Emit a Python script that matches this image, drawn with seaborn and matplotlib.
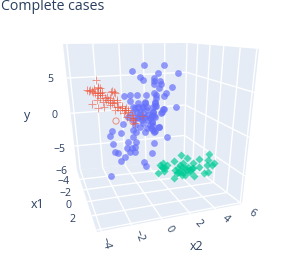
import matplotlib
matplotlib.use("Agg")
import numpy as np, pandas as pd
import matplotlib.pyplot as plt
from matplotlib.patches import Polygon
import seaborn as sns

# Projected (screen-space) positions of the 3D points
red_z = [(289,240),(270,271),(283,268),(293,260),(300,265),(305,275),(285,280),(295,285),(335,272),(345,278),(275,313),(295,323),(312,320),(320,290),(325,300),(340,300),(335,310),(350,305),(355,320),(365,318),(378,325),(385,335),(372,340),(395,345),(425,347),(400,355),(405,370),(330,295),(310,305),(345,330),(300,295),(290,300),(262,270),(280,275),(300,280),(315,295),(330,315),(360,330),(375,330)]
red_z5 = [(50,92),(42,92),(70,85),(65,100),(75,100),(82,105),(92,120),(105,125),(118,130),(125,140),(140,145),(150,150),(160,150),(155,170),(175,180),(125,120),(108,95),(118,95)]
red_open_z = [(348,363),(399,365)]
blue_z5 = [(208,15),(172,33),(195,50),(205,60),(147,108),(165,105),(185,105),(212,105),(175,140),(190,130),(210,130),(200,140),(215,140)]
blue_z2 = [(38,195),(22,220),(81,219),(10,235),(10,243),(8,252),(28,243),(30,253),(25,265),(63,262),(45,280),(38,288),(8,278),(15,285),(15,295),(12,310),(15,317),(5,320),(5,335),(74,322),(40,328),(32,337),(10,348),(3,348),(2,365),(25,380),(5,378),(12,392),(0,385)]
blue_z6 = [(135,5),(165,5),(165,18),(130,20),(115,20),(105,25),(90,2),(190,28),(183,38),(160,35),(155,45),(150,55),(165,50),(130,40),(110,50),(37,93),(30,108),(62,98),(201,110),(40,132),(85,125),(100,112),(108,125),(163,128),(80,145),(105,140),(95,145),(90,155),(45,157),(55,160),(105,157),(75,172),(63,182),(157,160),(132,185),(137,197),(33,229),(98,90),(108,95),(135,95),(140,85),(160,90),(178,80),(162,97),(150,75),(155,65),(125,60),(115,55),(100,60),(85,50),(70,72),(120,80),(130,70),(145,60),(105,75),(120,35),(140,30),(125,50),(135,50),(145,45),(110,35),(95,40)]
green_z = [(93,45),(112,55),(72,62),(147,58),(178,43),(175,60),(192,68),(130,68),(147,80),(185,75),(172,75),(175,95),(163,98),(132,108),(72,113),(25,100),(30,75),(40,70),(45,85),(50,75),(42,92),(85,85),(95,80),(105,85),(115,80),(125,85),(90,95),(100,95),(110,90),(80,100),(105,105),(120,90),(90,75),(100,70),(85,95),(95,105),(130,85),(35,80),(40,85),(75,90),(120,95)]

x2_ticks = ["\u22124", "\u22122", "0", "2", "4", "6"]
x1_ticks = ["\u22126", "\u22124", "\u22122", "0", "2"]
y_ticks = ["\u22125", "0", "5"]
TXT = "#2a3f5f"; PANE = "#e5ecf6"
BLUE = "#636efa"; RED = "#ef553b"; GREEN = "#00cc96"

def crop(pts, ox, oy):
    return [(ox + a / 3, oy + b / 3) for a, b in pts]

blue = crop(blue_z5, 75, 60) + crop(blue_z2, 151, 0) + crop(blue_z6, 100, 100)
green = crop(green_z, 150, 140)
red = crop(red_z, 0, 0) + crop(red_z5, 75, 60)
red_open = crop(red_open_z, 0, 0)

def frame(pts):
    return pd.DataFrame(pts, columns=["sx", "sy"])

sns.set_theme(style="white")
plt.rcParams["font.family"] = ["Open Sans", "DejaVu Sans"]
fig = plt.figure(figsize=(3.02, 2.65), dpi=100)
ax = fig.add_axes([0, 0, 1, 1])
ax.set_xlim(0, 302); ax.set_ylim(265, 0); ax.axis("off")

# scene corners
TL = (63, 44); TM = (187, 43); TR = (259, 49)
BL = (77, 170); BM = (184, 160); BR = (242, 204); FL = (97, 232)
for poly in ([TL, TM, BM, BL], [TM, TR, BR, BM], [BL, BM, BR, FL]):
    ax.add_patch(Polygon(poly, closed=True, fc=PANE, ec="none", zorder=1))

def lerp(a, b, t):
    return (a[0] + (b[0] - a[0]) * t, a[1] + (b[1] - a[1]) * t)

def seg(p, q, lw=1.0):
    ax.plot([p[0], q[0]], [p[1], q[1]], color="white", lw=lw, zorder=2, solid_capstyle="butt")

fx2 = [0.03, 0.24, 0.45, 0.645, 0.82, 1.0]
fx1 = [0.15, 0.32, 0.51, 0.74, 0.97]
fyL = [0.81, 0.55, 0.27]; fyM = [0.79, 0.53, 0.25]; fyR = [0.82, 0.57, 0.28]

for f in fx2:
    seg(lerp(TL, TM, f), lerp(BL, BM, f))
    seg(lerp(BL, BM, f), lerp(FL, BR, f))
for f in fx1:
    seg(lerp(TM, TR, f), lerp(BM, BR, f))
    seg(lerp(BL, FL, f), lerp(BM, BR, f))
for a, b, c in zip(fyL, fyM, fyR):
    seg(lerp(TL, BL, a), lerp(TM, BM, b))
    seg(lerp(TM, BM, b), lerp(TR, BR, c))

# marks
sns.scatterplot(data=frame(blue), x="sx", y="sy", ax=ax, color=BLUE, marker="o", s=24,
                alpha=0.68, linewidth=0, zorder=3, legend=False)
sns.scatterplot(data=frame(green), x="sx", y="sy", ax=ax, color=GREEN, marker="D", s=17,
                alpha=0.68, linewidth=0, zorder=3, legend=False)
sns.scatterplot(data=frame(red), x="sx", y="sy", ax=ax, color=RED, marker="+", s=34,
                alpha=0.62, linewidth=0.65, zorder=4, legend=False)
sns.scatterplot(data=frame(red_open), x="sx", y="sy", ax=ax, facecolor="none", edgecolor=RED, marker="o",
                s=20, alpha=0.68, linewidth=0.65, zorder=4, legend=False)
ax.set_xlim(0, 302); ax.set_ylim(265, 0); ax.axis("off")

# text
ax.text(1, 7, "Complete cases", fontsize=10.2, color=TXT, ha="left", va="center")
kw = dict(color=TXT, fontsize=7.6, ha="center", va="center")
for t, p in zip(y_ticks, [(59, 149), (54, 115), (50, 79)]):
    ax.text(*p, t, **kw)
for t, p in zip(x1_ticks, [(62, 172), (64, 182), (66, 193), (69, 205), (72, 220)]):
    ax.text(*p, t, **kw)
for t, p, r in zip(x2_ticks, [(105, 243), (139, 236), (169, 229), (198, 224), (226, 219), (252, 213)],
                   [-75, -70, -58, -48, -40, -32]):
    ax.text(*p, t, rotation=r, rotation_mode="anchor", **kw)
ax.text(27, 115, "y", **{**kw, "fontsize": 9})
ax.text(38, 204, "x1", **{**kw, "fontsize": 9})
ax.text(197, 246, "x2", **{**kw, "fontsize": 9})

fig.savefig("out.png", dpi=100)
